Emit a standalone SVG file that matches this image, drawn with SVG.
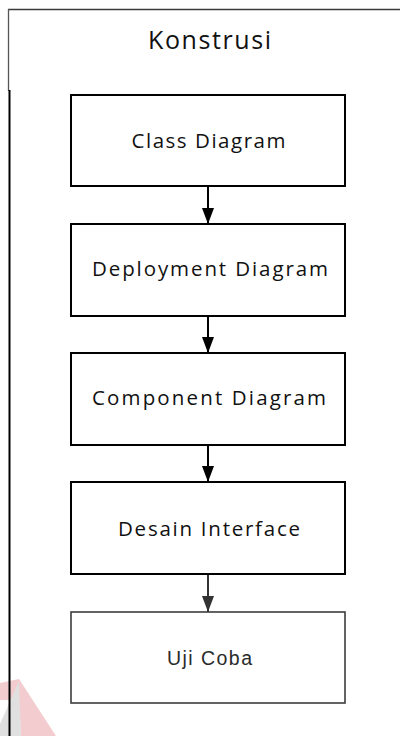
<svg xmlns="http://www.w3.org/2000/svg" width="400" height="736" viewBox="0 0 400 736">
  <defs>
    <style>
      .box { fill: #ffffff; stroke: #000000; stroke-width: 2; }
      .box-light { fill: #ffffff; stroke: #3c3c3c; stroke-width: 1.6; }
      .lbl { font-family: "Open Sans", "Noto Sans", "Liberation Sans", sans-serif; font-size: 20.5px; fill: #111111; }
      .lbl-arial { font-family: "Liberation Sans", Arial, sans-serif; font-size: 19.5px; fill: #2a2a2a; }
      .title { font-family: "Open Sans", "Noto Sans", "Liberation Sans", sans-serif; font-size: 25px; fill: #111111; }
      .conn { stroke: #000000; stroke-width: 2; fill: none; }
      .conn-light { stroke: #333333; stroke-width: 2; fill: none; }
    </style>
    <marker id="arrow" viewBox="0 0 16 12" refX="16" refY="6" markerWidth="16" markerHeight="12" markerUnits="userSpaceOnUse" orient="auto">
      <path d="M0,0 L16,6 L0,12 z" fill="#000000"/>
    </marker>
    <marker id="arrow-light" viewBox="0 0 16 12" refX="16" refY="6" markerWidth="16" markerHeight="12" markerUnits="userSpaceOnUse" orient="auto">
      <path d="M0,0 L16,6 L0,12 z" fill="#333333"/>
    </marker>
  </defs>

  <rect x="0" y="0" width="400" height="736" fill="#ffffff"/>

  <!-- faint logo corner -->
  <g id="logo" opacity="0.55">
    <polygon points="0,683 19,679 56,736 21,736 19,700 0,700" fill="#e9a3a8"/>
    <polygon points="19,681 21,736 0,736 0,724" fill="#c8c8c8"/>
  </g>

  <!-- swimlane frame -->
  <g id="lane">
    <line x1="8" y1="9.5" x2="400" y2="9.5" stroke="#3a3a3a" stroke-width="1.6"/>
    <line x1="8.5" y1="9" x2="8.5" y2="91" stroke="#555555" stroke-width="1.3"/>
    <line x1="9.5" y1="90" x2="9.5" y2="736" stroke="#000000" stroke-width="2"/>
    <text class="title" x="209.5" y="49" text-anchor="middle" textLength="123" lengthAdjust="spacing">Konstrusi</text>
  </g>

  <g id="connectors">
    <line class="conn" x1="208" y1="186" x2="208" y2="224" marker-end="url(#arrow)"/>
    <line class="conn" x1="208" y1="316" x2="208" y2="353" marker-end="url(#arrow)"/>
    <line class="conn" x1="208" y1="445" x2="208" y2="482" marker-end="url(#arrow)"/>
    <line class="conn-light" x1="208" y1="574" x2="208" y2="612" marker-end="url(#arrow-light)"/>
  </g>

  <g id="class-diagram">
    <rect class="box" x="71" y="95" width="274" height="91"/>
    <text class="lbl" x="208.5" y="148" text-anchor="middle" textLength="154" lengthAdjust="spacing">Class Diagram</text>
  </g>

  <g id="deployment-diagram">
    <rect class="box" x="71" y="224" width="274" height="92"/>
    <text class="lbl" x="210" y="276" text-anchor="middle" textLength="236" lengthAdjust="spacing">Deployment Diagram</text>
  </g>

  <g id="component-diagram">
    <rect class="box" x="71" y="353" width="274" height="92"/>
    <text class="lbl" x="209" y="405" text-anchor="middle" textLength="234" lengthAdjust="spacing">Component Diagram</text>
  </g>

  <g id="desain-interface">
    <rect class="box" x="71" y="482" width="274" height="92"/>
    <text class="lbl" x="209" y="536" text-anchor="middle" textLength="182" lengthAdjust="spacing">Desain Interface</text>
  </g>

  <g id="uji-coba">
    <rect class="box-light" x="71" y="612" width="274" height="91"/>
    <text class="lbl-arial" x="209.5" y="665" text-anchor="middle" textLength="85" lengthAdjust="spacing">Uji Coba</text>
  </g>
</svg>
